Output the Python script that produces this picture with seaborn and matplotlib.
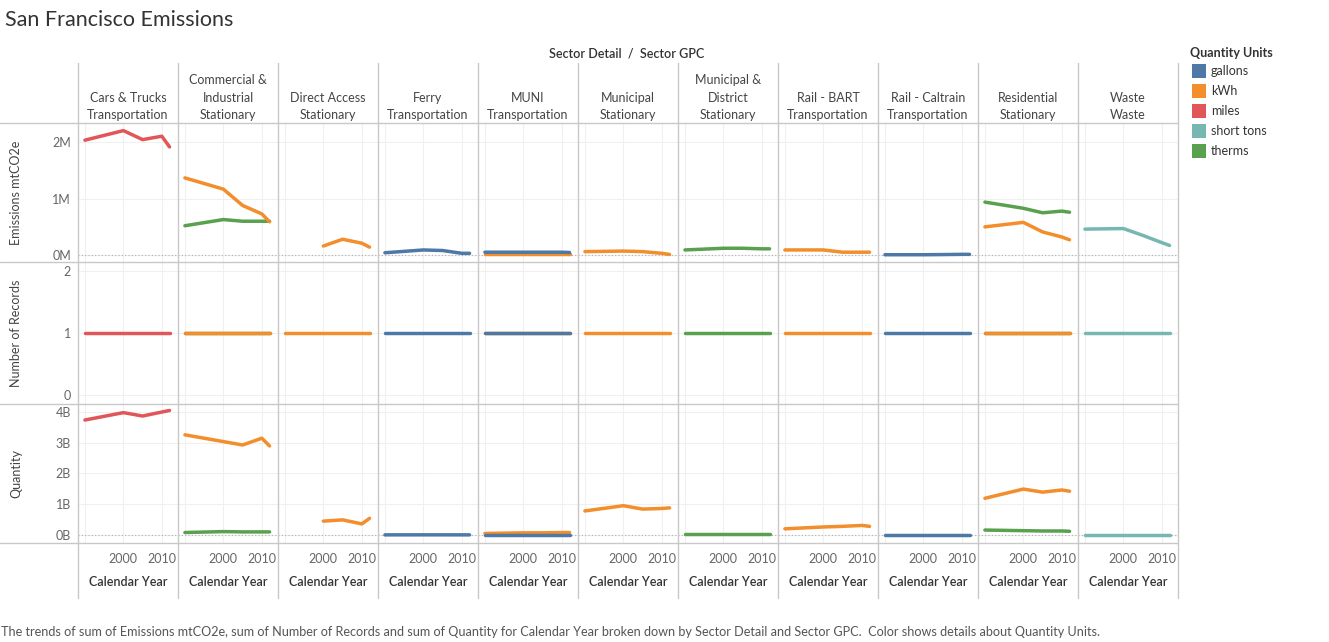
import numpy as np
import pandas as pd
import matplotlib
matplotlib.use("Agg")
import matplotlib.pyplot as plt
from matplotlib.lines import Line2D
from matplotlib.patches import Rectangle
from matplotlib.ticker import FixedLocator, FixedFormatter
import seaborn as sns

sns.set_theme(style="white")
plt.rcParams['font.family'] = ['Lato', 'DejaVu Sans']

# ---------------- data ----------------
years = [1990, 2000, 2005, 2010, 2012]

sector_detail = ["Cars & Trucks", "Commercial &\nIndustrial", "Direct Access", "Ferry", "MUNI",
                 "Municipal", "Municipal &\nDistrict", "Rail - BART", "Rail - Caltrain",
                 "Residential", "Waste"]
sector_gpc = ["Transportation", "Stationary", "Stationary", "Transportation", "Transportation",
              "Stationary", "Stationary", "Transportation", "Transportation",
              "Stationary", "Waste"]

units = ["gallons", "kWh", "miles", "short tons", "therms"]
unit_colors = ["#4e79a7", "#f28e2b", "#e15759", "#76b7b2", "#59a14f"]

# series: sector index, unit
series_sector = [0, 1, 1, 2, 3, 4, 4, 5, 6, 7, 8, 9, 9, 10]
series_unit = ["miles", "kWh", "therms", "kWh", "gallons", "gallons", "kWh", "kWh",
               "therms", "kWh", "gallons", "kWh", "therms", "short tons"]

# Emissions mtCO2e (millions)
emissions_m = [
    [2.04, 2.21, 2.05, 2.11, 1.92],        # Cars & Trucks miles
    [1.37, 1.17, 0.88, 0.73, 0.59],        # Commercial kWh
    [0.52, 0.63, 0.60, 0.60, 0.60],        # Commercial therms
    [np.nan, 0.16, 0.28, 0.21, 0.14],      # Direct Access kWh
    [0.04, 0.09, 0.08, 0.03, 0.03],        # Ferry gallons
    [0.05, 0.05, 0.05, 0.05, 0.045],       # MUNI gallons
    [0.01, 0.01, 0.01, 0.01, 0.01],        # MUNI kWh
    [0.06, 0.07, 0.06, 0.03, 0.01],        # Municipal kWh
    [0.09, 0.12, 0.12, 0.11, 0.11],        # Municipal & District therms
    [0.09, 0.09, 0.05, 0.05, 0.05],        # BART kWh
    [0.005, 0.005, 0.008, 0.012, 0.012],   # Caltrain gallons
    [0.50, 0.58, 0.41, 0.32, 0.27],        # Residential kWh
    [0.94, 0.83, 0.75, 0.78, 0.76],        # Residential therms
    [0.46, 0.47, 0.35, 0.22, 0.17],        # Waste short tons
]

# Number of Records
records = [
    [1, 1, 1, 1, 1], [1, 1, 1, 1, 1], [1, 1, 1, 1, 1], [1, 1, 1, 1, 1],
    [1, 1, 1, 1, 1], [1, 1, 1, 1, 1], [1, 1, 1, 1, 1], [1, 1, 1, 1, 1],
    [1, 1, 1, 1, 1], [1, 1, 1, 1, 1], [1, 1, 1, 1, 1], [1, 1, 1, 1, 1],
    [1, 1, 1, 1, 1], [1, 1, 1, 1, 1],
]

# Quantity (billions)
quantity_b = [
    [3.73, 3.97, 3.86, 3.99, 4.04],        # Cars & Trucks miles
    [3.25, 3.03, 2.92, 3.14, 2.89],        # Commercial kWh
    [0.08, 0.11, 0.10, 0.10, 0.10],        # Commercial therms
    [np.nan, 0.45, 0.49, 0.36, 0.54],      # Direct Access kWh
    [0.004, 0.005, 0.005, 0.004, 0.004],   # Ferry gallons
    [0.01, 0.01, 0.01, 0.01, 0.01],        # MUNI gallons
    [0.05, 0.07, 0.07, 0.08, 0.08],        # MUNI kWh
    [0.78, 0.95, 0.84, 0.86, 0.88],        # Municipal kWh
    [0.02, 0.02, 0.02, 0.02, 0.02],        # Municipal & District therms
    [0.20, 0.26, 0.28, 0.31, 0.28],        # BART kWh
    [0.003, 0.003, 0.003, 0.003, 0.003],   # Caltrain gallons
    [1.19, 1.49, 1.39, 1.46, 1.42],        # Residential kWh
    [0.16, 0.14, 0.13, 0.13, 0.12],        # Residential therms
    [0.001, 0.001, 0.001, 0.001, 0.001],   # Waste short tons
]

rows = []
for i, (s, u) in enumerate(zip(series_sector, series_unit)):
    for j, yr in enumerate(years):
        rows.append(dict(sector=s, unit=u, year=yr,
                         emissions=emissions_m[i][j] * 1e6,
                         records=records[i][j],
                         quantity=quantity_b[i][j] * 1e9))
df = pd.DataFrame(rows)

palette = dict(zip(units, unit_colors))
draw_order = units[::-1]  # first legend items drawn on top

# ---------------- layout ----------------
W, H = 1329, 642
fig = plt.figure(figsize=(W / 100, H / 100), dpi=100)

def add_px_axes(x0, y0, x1, y1):
    return fig.add_axes([x0 / W, 1 - y1 / H, (x1 - x0) / W, (y1 - y0) / H])

row_bounds = [(123, 262), (262, 404), (404, 543)]
measures = ["emissions", "records", "quantity"]
ylims = [(-0.124e6, 2.345e6), (-0.145, 2.145), (-0.26e9, 4.25e9)]
yticks = [[0, 1e6, 2e6], [0, 1, 2], [0, 1e9, 2e9, 3e9, 4e9]]
yticklabels = [["0M", "1M", "2M"], ["0", "1", "2"], ["0B", "1B", "2B", "3B", "4B"]]
row_titles = ["Emissions mtCO2e", "Number of Records", "Quantity"]

tick_color = "#666666"
sep_color = "#c8c8c8"
grid_color = "#f0f0f0"
n_cols = len(sector_detail)
col_w = 100
left0 = 78

for r, (y0, y1) in enumerate(row_bounds):
    for c in range(n_cols):
        x0 = left0 + c * col_w
        ax = add_px_axes(x0, y0, x0 + col_w, y1)
        sub = df[df["sector"] == c]
        order = [u for u in draw_order if u in set(sub["unit"])]
        sns.lineplot(data=sub, x="year", y=measures[r], hue="unit", hue_order=order,
                     palette=palette, legend=False, ax=ax, linewidth=2.5,
                     solid_capstyle="round", zorder=3)
        ax.set_xlim(1988.2, 2014.2)
        ax.set_ylim(*ylims[r])
        ax.xaxis.set_major_locator(FixedLocator([1990, 2000, 2010]))
        ax.yaxis.set_major_locator(FixedLocator(yticks[r]))
        ax.grid(True, color=grid_color, linewidth=0.8, zorder=0)
        ax.set_axisbelow(True)
        for sp in ax.spines.values():
            sp.set_visible(False)
        ax.set_xlabel("")
        ax.set_ylabel("")
        ax.set_facecolor("none")
        if r != 1:
            ax.axhline(0, color="#b0b0b0", linewidth=0.8, linestyle=(0, (1, 2)), zorder=1)
        ax.tick_params(axis="both", length=0, colors=tick_color, labelsize=9)
        if c == 0:
            ax.yaxis.set_major_formatter(FixedFormatter(yticklabels[r]))
            ax.tick_params(axis="y", pad=5)
        else:
            ax.set_yticklabels([])
        if r == 2:
            ax.xaxis.set_major_formatter(FixedFormatter(["", "2000", "2010"]))
            ax.tick_params(axis="x", pad=7)
        else:
            ax.set_xticklabels([])

# separators
def hline(y, x0, x1):
    fig.add_artist(Line2D([x0 / W, x1 / W], [1 - y / H, 1 - y / H], color=sep_color, lw=1))

def vline(x, y0, y1):
    fig.add_artist(Line2D([x / W, x / W], [1 - y0 / H, 1 - y1 / H], color=sep_color, lw=1))

for y in [123, 262, 404, 543]:
    hline(y, 0, left0 + n_cols * col_w)
for c in range(n_cols + 1):
    vline(left0 + c * col_w, 63, 598)

# headers
for c in range(n_cols):
    xc = left0 + c * col_w + col_w / 2
    fig.text(xc / W, 1 - 121 / H, sector_detail[c] + "\n" + sector_gpc[c],
             ha="center", va="bottom", fontsize=9, color="#444444", linespacing=1.55)
    fig.text(xc / W, 1 - 582 / H, "Calendar Year", ha="center", va="center",
             fontsize=9, color="#333333", fontweight="semibold")

fig.text(627 / W, 1 - 53 / H, "Sector Detail  /  Sector GPC", ha="center", va="center",
         fontsize=9, color="#333333", fontweight="semibold")

for r, (y0, y1) in enumerate(row_bounds):
    fig.text(16 / W, 1 - ((y0 + y1) / 2) / H, row_titles[r], rotation=90,
             ha="center", va="center", fontsize=9, color="#444444")

# title and footer
fig.text(5 / W, 1 - 20 / H, "San Francisco Emissions", ha="left", va="center",
         fontsize=15.5, color="#333333")
fig.text(1 / W, 1 - 632 / H,
         "The trends of sum of Emissions mtCO2e, sum of Number of Records and sum of Quantity for "
         "Calendar Year broken down by Sector Detail and Sector GPC.  Color shows details about Quantity Units.",
         ha="left", va="center", fontsize=9.1, color="#555555")

# legend
fig.text(1190 / W, 1 - 53 / H, "Quantity Units", ha="left", va="center",
         fontsize=9, color="#333333", fontweight="bold")
for k, (u, col) in enumerate(zip(units, unit_colors)):
    yc = 71 + 20 * k
    fig.add_artist(Rectangle((1192 / W, 1 - (yc + 7) / H), 14 / W, 14 / H,
                             transform=fig.transFigure, facecolor=col, edgecolor="none"))
    fig.text(1211 / W, 1 - yc / H, u, ha="left", va="center", fontsize=9, color="#333333")

fig.savefig("out.png", dpi=100)
